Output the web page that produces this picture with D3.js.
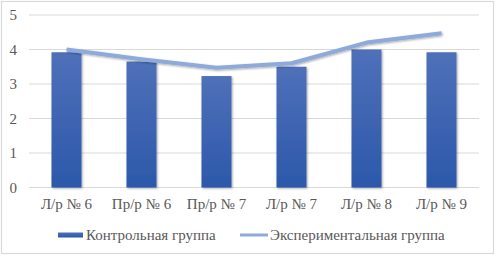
<!DOCTYPE html>
<html><head><meta charset="utf-8">
<script src="https://cdn.jsdelivr.net/npm/d3@7"></script>
<style>
html,body{margin:0;padding:0;background:#fff;}
svg{display:block;}
</style></head>
<body><svg id="c" width="496" height="256"></svg>
<script>
const categories = ["Л/р № 6","Пр/р № 6","Пр/р № 7","Л/р № 7","Л/р № 8","Л/р № 9"];
const controlValues = [3.92, 3.65, 3.23, 3.5, 4.0, 3.92];
const experimentalValues = [4.0, 3.72, 3.47, 3.6, 4.2, 4.47];
const yTicks = [0,1,2,3,4,5];
const seriesNames = ["Контрольная группа","Экспериментальная группа"];

(function(){
const FS = 15, FF = "Liberation Serif", TC = "#595959";
const svg = d3.select("#c");
const defs = svg.append("defs");
const grad = defs.append("linearGradient").attr("id","bg").attr("x1",0).attr("y1",0).attr("x2",0).attr("y2",1);
grad.append("stop").attr("offset","0%").attr("stop-color","#4f70b9");
grad.append("stop").attr("offset","100%").attr("stop-color","#2c58aa");
const sh = defs.append("filter").attr("id","sh").attr("x","-20%").attr("y","-20%").attr("width","140%").attr("height","140%");
sh.append("feDropShadow").attr("dx",1).attr("dy",1).attr("stdDeviation",1).attr("flood-color","#000").attr("flood-opacity",0.35);

svg.append("rect").attr("x",1.5).attr("y",1.5).attr("width",492).attr("height",252)
  .attr("fill","#fff").attr("stroke","#d9d9d9").attr("stroke-width",1.2);

const pl = 29, pr = 479, pt = 15, pb = 187.5;
const x = d3.scaleBand().domain(categories).range([pl,pr]).paddingInner(0.6).paddingOuter(0.3);
const y = d3.scaleLinear().domain([0,5]).range([pb,pt]);

svg.append("g").selectAll("line").data(yTicks).join("line")
  .attr("x1",pl).attr("x2",pr).attr("y1",d=>y(d)).attr("y2",d=>y(d))
  .attr("stroke","#d9d9d9").attr("stroke-width",1);

const yAxis = svg.append("g").attr("transform",`translate(${pl},0)`)
  .call(d3.axisLeft(y).tickValues(yTicks).tickSize(0).tickPadding(12).tickFormat(d3.format("d")));
yAxis.select(".domain").remove();
yAxis.attr("font-family",FF).attr("font-size",FS);
yAxis.selectAll("text").attr("fill",TC).style("font-family",FF);

svg.append("g").selectAll("rect").data(categories).join("rect")
  .attr("x",d=>x(d)).attr("width",x.bandwidth())
  .attr("y",(d,i)=>y(controlValues[i])).attr("height",(d,i)=>y(0)-y(controlValues[i]))
  .attr("fill","url(#bg)").attr("filter","url(#sh)");

const xAxis = svg.append("g").attr("transform",`translate(0,${pb})`)
  .call(d3.axisBottom(x).tickSize(0).tickPadding(11));
xAxis.select(".domain").remove();
xAxis.attr("font-family",FF).attr("font-size",FS);
xAxis.selectAll("text").attr("fill",TC).style("font-family",FF);

const line = d3.line().x((d,i)=>x(categories[i])+x.bandwidth()/2).y(d=>y(d));
svg.append("path").datum(experimentalValues).attr("d",line)
  .attr("fill","none").attr("stroke","#8eaadb").attr("stroke-width",4)
  .attr("stroke-linejoin","round").attr("filter","url(#sh)");

const lg = svg.append("g").attr("font-family",FF).attr("font-size",FS).attr("fill",TC);
lg.append("rect").attr("x",58).attr("y",232.5).attr("width",25).attr("height",5).attr("fill","url(#bg)");
lg.append("text").attr("x",86).attr("y",239.5).style("font-family",FF).text(seriesNames[0]);
lg.append("line").attr("x1",240).attr("x2",268).attr("y1",235).attr("y2",235).attr("stroke","#8eaadb").attr("stroke-width",3);
lg.append("text").attr("x",270).attr("y",239.5).style("font-family",FF).text(seriesNames[1]);
})();
</script></body></html>
